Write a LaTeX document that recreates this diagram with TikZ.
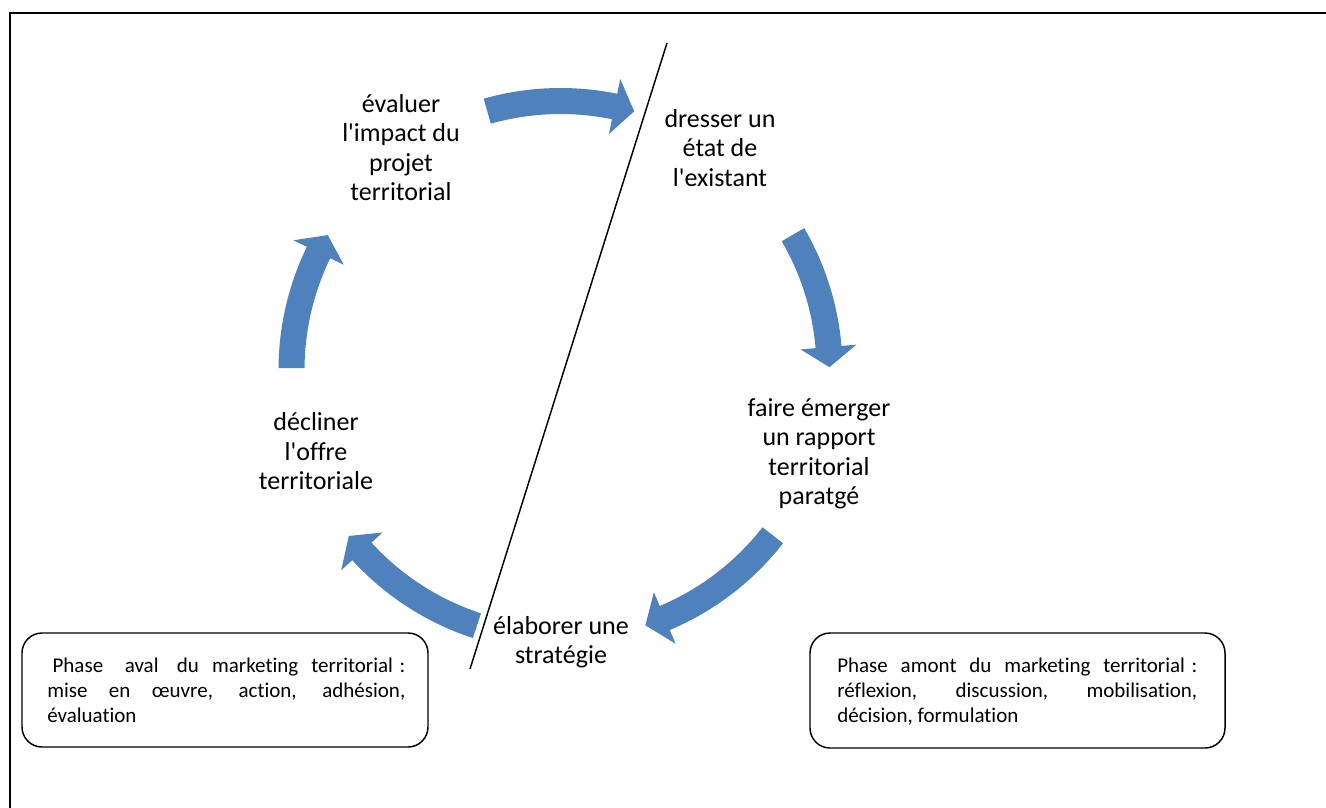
\documentclass[tikz,border=0pt]{standalone}
\usepackage{fontspec}
\setmainfont{Carlito}[Ligatures={TeX,NoCommon},Contextuals={NoAlternate}]
\definecolor{arrowblue}{HTML}{4F81BD}
\newcommand\qapos{\textquotesingle}
% #1 tail angle, #2 head-base angle, #3 tip angle (visual degrees)
\newcommand\cycarrow[3]{%
  \fill[arrowblue] plot[domain=#1:#2,samples=40] ({560.5+282*cos(\x)},{370-282*sin(\x)})
    -- ({560.5+297*cos(#2)},{370-297*sin(#2)})
    -- ({560.5+269*cos(#3)},{370-269*sin(#3)})
    -- ({560.5+241*cos(#2)},{370-241*sin(#2)})
    -- plot[domain=#2:#1,samples=40] ({560.5+256*cos(\x)},{370-256*sin(\x)})
    -- cycle;}
\tikzset{
  steptext/.style={anchor=base, inner sep=0pt, font=\fontsize{19.5pt}{22.125pt}\selectfont},
  phasebox/.style={draw, line width=1.1pt, rounded corners=15pt},
  phasetext/.style={anchor=base west, inner sep=0pt, font=\fontsize{15.75pt}{19pt}\selectfont},
  frameline/.style={line width=1.5pt},
  divider/.style={line width=1.1pt},
}
\begin{document}
\begin{tikzpicture}[x=0.75pt,y=-0.75pt]
\useasboundingbox (0,0) rectangle (1326,807);
\clip (0,0) rectangle (1326,807);
\fill[white] (0,0) rectangle (1326,807);
% frame (cropped)
\coordinate (fbl) at (10,815);
\coordinate (ftl) at (10,12.5);
\coordinate (ftr) at (1335,12.5);
\draw[frameline] (fbl) -- (ftl) -- (ftr);
% curved arrows
\cycarrow{105.8}{78.4}{74.1}
\cycarrow{30.2}{4.9}{0.6}
\cycarrow{-37.9}{-67.2}{-71.6}
\cycarrow{-108.1}{-137.6}{-141.9}
\cycarrow{179.6}{154.1}{149.9}
% divider line
\coordinate (dtop) at (667,43);
\coordinate (dbot) at (470,669);
\draw[divider] (dtop) -- (dbot);
% step texts
\node[steptext] (eval) at (401,112) {\parbox[t]{150pt}{\centering évaluer\\l\qapos impact du\\projet\\territorial}};
\node[steptext] (dress) at (720,127) {\parbox[t]{150pt}{\centering dresser un\\état de\\l\qapos existant}};
\node[steptext] (faire) at (819,416) {\parbox[t]{150pt}{\centering faire émerger\\un rapport\\territorial\\paratgé}};
\node[steptext] (elab) at (561,634) {\parbox[t]{150pt}{\centering élaborer une\\stratégie}};
\node[steptext] (decl) at (316,430.5) {\parbox[t]{150pt}{\centering décliner\\l\qapos offre\\territoriale}};
% phase boxes
\draw[phasebox] (22,633) rectangle (428,747);
\draw[phasebox] (810,633) rectangle (1225,748);
\node[phasetext] (aval) at (47,672) {\parbox[t]{268.5pt}{\hspace*{4pt}Phase\hspace{16.2pt}aval\hspace{13.8pt}du marketing territorial\hspace{5pt}:\linebreak mise en œuvre, action, adhésion,\linebreak évaluation}};
\node[phasetext] (amont) at (837,672) {\parbox[t]{270pt}{Phase amont du marketing territorial\hspace{5pt}:\linebreak réflexion, discussion, mobilisation,\linebreak décision, formulation}};
\end{tikzpicture}
\end{document}
